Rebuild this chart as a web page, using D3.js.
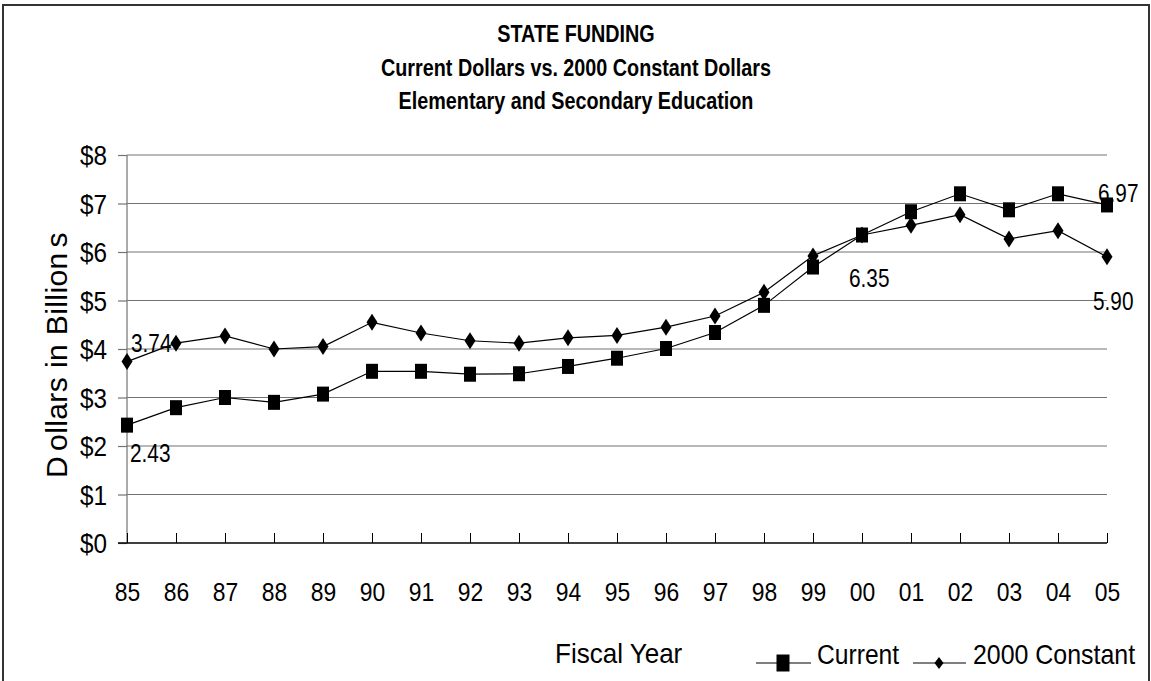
<!DOCTYPE html>
<html>
<head>
<meta charset="utf-8">
<script src="https://cdn.jsdelivr.net/npm/d3@7"></script>
<style>
  html, body { margin: 0; padding: 0; background: #fff; }
  svg { display: block; }
  text { font-family: "Liberation Sans", Arial, sans-serif; fill: #000; }
</style>
</head>
<body>
<svg id="chart" width="1151" height="681"></svg>
<script>
const years = ["85","86","87","88","89","90","91","92","93","94","95","96","97","98","99","00","01","02","03","04","05"];
const currentValues  = [2.43,2.79,3.00,2.90,3.07,3.54,3.54,3.48,3.49,3.64,3.81,4.01,4.34,4.90,5.69,6.35,6.83,7.20,6.87,7.20,6.97];
const constantValues = [3.74,4.12,4.27,4.00,4.05,4.55,4.33,4.17,4.12,4.23,4.28,4.45,4.68,5.17,5.92,6.35,6.55,6.77,6.27,6.44,5.90];
const yTicks = [0,1,2,3,4,5,6,7,8];
const titleLines = ["STATE FUNDING", "Current Dollars vs. 2000 Constant Dollars", "Elementary and Secondary Education"];
const seriesNames = ["Current", "2000 Constant"];
// data labels: [series index, year index, text]
const dataLabels = [
  [1, 0, "3.74"], [0, 0, "2.43"], [0, 15, "6.35"], [0, 20, "6.97"], [1, 20, "5.90"]
];

const svg = d3.select("#chart");
const m = { left: 127, right: 1107, top: 155, bottom: 543 };

// squeeze a text horizontally around its anchor point
function narrow(sel, s) {
  sel.each(function () {
    const t = d3.select(this);
    const tx = +t.attr("x") || 0, ty = +t.attr("y") || 0;
    const prev = t.attr("transform") || "";
    t.attr("x", null).attr("y", null)
     .attr("transform", `${prev} translate(${tx},${ty}) scale(${s},1)`);
  });
}

// outer border
svg.append("rect").attr("x", 3).attr("y", 5).attr("width", 1146).attr("height", 690)
  .attr("fill", "#fff").attr("stroke", "#333").attr("stroke-width", 2);

const x = d3.scalePoint().domain(years).range([m.left, m.right]).padding(0);
const y = d3.scaleLinear().domain([0, 8]).range([m.bottom, m.top]);

// title
svg.append("g").selectAll("text").data(titleLines).join("text")
  .attr("x", 576).attr("y", (d, i) => 42 + i * 33.5)
  .attr("text-anchor", "middle").attr("font-weight", "bold").attr("font-size", 23)
  .text(d => d)
  .call(narrow, 0.86);

// gridlines
svg.append("g").selectAll("line").data(yTicks.filter(d => d > 0)).join("line")
  .attr("x1", m.left).attr("x2", m.right)
  .attr("y1", d => y(d)).attr("y2", d => y(d))
  .attr("stroke", "#737373").attr("stroke-width", 1.2);

// y axis
const yAxis = d3.axisLeft(y).tickValues(yTicks).tickFormat(d => "$" + d).tickSize(9).tickPadding(11);
const gy = svg.append("g").attr("transform", `translate(${m.left},0)`).call(yAxis);
gy.select(".domain").attr("stroke", "#737373").attr("stroke-width", 1.2).attr("d", `M0,${m.top}V${m.bottom}`);
gy.selectAll(".tick line").attr("stroke", "#737373").attr("stroke-width", 1.2);
gy.selectAll(".tick text").attr("font-size", 27).attr("dy", null).attr("y", 9.5)
  .style("font-family", '"Liberation Sans", Arial, sans-serif')
  .call(narrow, 0.9);

// x axis
const xAxis = d3.axisBottom(x).tickSize(-10).tickPadding(0);
const gx = svg.append("g").attr("transform", `translate(0,${m.bottom})`).call(xAxis);
gx.select(".domain").attr("stroke", "#000").attr("stroke-width", 1.5).attr("d", `M${m.left - 9},0H${m.right}`);
gx.selectAll(".tick line").attr("stroke", "#000");
gx.selectAll(".tick text").attr("font-size", 26).attr("dy", null).attr("y", 58)
  .style("font-family", '"Liberation Sans", Arial, sans-serif')
  .call(narrow, 0.88);

// axis titles
const yTitle = svg.append("text").attr("transform", `translate(67,355) rotate(-90)`)
  .attr("text-anchor", "middle").attr("font-size", 30).attr("letter-spacing", 0.4);
yTitle.append("tspan").text("D");
yTitle.append("tspan").attr("dx", 5).text("ollars in Billion");
yTitle.append("tspan").attr("dx", 5).text("s");
svg.append("text").attr("x", 555).attr("y", 663).attr("font-size", 28)
  .text("Fiscal Year").call(narrow, 0.93);

// lines
const line = d3.line().x((d, i) => x(years[i])).y(d => y(d));
const seriesData = [currentValues, constantValues];
svg.append("g").selectAll("path").data(seriesData).join("path")
  .attr("d", line).attr("fill", "none").attr("stroke", "#000").attr("stroke-width", 1.2);

// data labels (drawn under the markers, as in the original)
const labelOffsets = { "3.74": [4, -10], "2.43": [3, 37], "6.35": [-13, 52], "6.97": [-9, -3], "5.90": [-14, 53] };
svg.append("g").selectAll("text").data(dataLabels).join("text")
  .attr("x", d => x(years[d[1]]) + labelOffsets[d[2]][0])
  .attr("y", d => y(seriesData[d[0]][d[1]]) + labelOffsets[d[2]][1])
  .attr("font-size", 26)
  .text(d => d[2])
  .call(narrow, 0.8);

// markers
const squarePath = "M-6,-7.5H6V7.5H-6Z";
const diamondPath = "M0,-8.5L5.5,0L0,8.5L-5.5,0Z";
svg.append("g").selectAll("path").data(currentValues).join("path")
  .attr("transform", (d, i) => `translate(${x(years[i])},${y(d)})`)
  .attr("d", squarePath).attr("fill", "#000");
svg.append("g").selectAll("path").data(constantValues).join("path")
  .attr("transform", (d, i) => `translate(${x(years[i])},${y(d)})`)
  .attr("d", diamondPath).attr("fill", "#000");

// legend
const lg = svg.append("g").attr("transform", "translate(756,663)");
lg.append("line").attr("x1", 0).attr("x2", 55).attr("y1", 0).attr("y2", 0).attr("stroke", "#000").attr("stroke-width", 1.2);
lg.append("path").attr("transform", "translate(27,0)").attr("d", "M-6.5,-8.5H6.5V8.5H-6.5Z").attr("fill", "#000");
lg.append("text").attr("x", 61).attr("y", 1).attr("font-size", 28).text(seriesNames[0]).call(narrow, 0.88);
lg.append("line").attr("x1", 157).attr("x2", 210).attr("y1", 0).attr("y2", 0).attr("stroke", "#000").attr("stroke-width", 1.2);
lg.append("path").attr("transform", "translate(183,0)").attr("d", "M0,-6L4.5,0L0,6L-4.5,0Z").attr("fill", "#000");
lg.append("text").attr("x", 217).attr("y", 1).attr("font-size", 28).text(seriesNames[1]).call(narrow, 0.89);
</script>
</body>
</html>
